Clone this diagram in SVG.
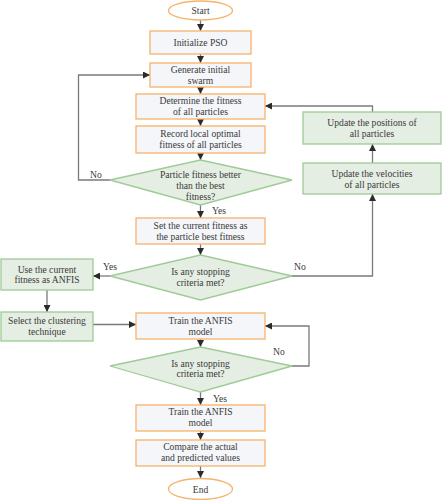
<svg xmlns="http://www.w3.org/2000/svg" width="442" height="500" viewBox="0 0 442 500" font-family="'Liberation Serif', 'Times New Roman', serif">
<defs>
<marker id="ah" markerUnits="userSpaceOnUse" markerWidth="7" markerHeight="7" viewBox="0 0 7 7" refX="7" refY="3.5" orient="auto">
<path d="M0,0 L7,3.5 L0,7 Z" fill="#2b2b2b"/>
</marker>
<style>
.o{fill:#f4f6f9;stroke:#f6b26b;stroke-width:1.3}
.e{fill:#ffffff;stroke:#f6b26b;stroke-width:1.3}
.g{fill:#e5eee3;stroke:#9fcb97;stroke-width:1.3}
.c{fill:none;stroke:#7a7a7a;stroke-width:1.3}
text{font-family:'Liberation Serif','Times New Roman',serif;font-size:9.6px;fill:#3a3a3a;text-anchor:middle}
.l{text-anchor:start}
</style>
</defs>
<g id="connectors">
<line class="c" x1="200.5" y1="20" x2="200.5" y2="31" marker-end="url(#ah)"/>
<line class="c" x1="200.5" y1="54" x2="200.5" y2="63" marker-end="url(#ah)"/>
<line class="c" x1="200.5" y1="87" x2="200.5" y2="94" marker-end="url(#ah)"/>
<line class="c" x1="200.5" y1="119" x2="200.5" y2="126" marker-end="url(#ah)"/>
<line class="c" x1="200.5" y1="153" x2="200.5" y2="160" marker-end="url(#ah)"/>
<polyline class="c" points="110,180 78.5,180 78.5,75 150,75" marker-end="url(#ah)"/>
<line class="c" x1="200.5" y1="205" x2="200.5" y2="218" marker-end="url(#ah)"/>
<line class="c" x1="200.5" y1="244" x2="200.5" y2="255" marker-end="url(#ah)"/>
<line class="c" x1="110" y1="276" x2="93" y2="276" marker-end="url(#ah)"/>
<line class="c" x1="47" y1="290" x2="47" y2="312" marker-end="url(#ah)"/>
<line class="c" x1="93" y1="324.5" x2="136" y2="324.5" marker-end="url(#ah)"/>
<polyline class="c" points="292,276 372.5,276 372.5,194" marker-end="url(#ah)"/>
<line class="c" x1="372.5" y1="163" x2="372.5" y2="144" marker-end="url(#ah)"/>
<polyline class="c" points="372.5,112 372.5,106 265,106" marker-end="url(#ah)"/>
<line class="c" x1="200.5" y1="339" x2="200.5" y2="347" marker-end="url(#ah)"/>
<polyline class="c" points="292,366 309,366 309,326 265,326" marker-end="url(#ah)"/>
<line class="c" x1="200.5" y1="392" x2="200.5" y2="405" marker-end="url(#ah)"/>
<line class="c" x1="200.5" y1="431" x2="200.5" y2="440" marker-end="url(#ah)"/>
<line class="c" x1="200.5" y1="466" x2="200.5" y2="478" marker-end="url(#ah)"/>
<text class="l" x="90" y="178">No</text>
<text class="l" x="212" y="214">Yes</text>
<text class="l" x="103" y="270">Yes</text>
<text class="l" x="294" y="270">No</text>
<text class="l" x="273" y="355">No</text>
<text class="l" x="213" y="401.5">Yes</text>
</g>
<g id="start"><ellipse class="e" cx="200.5" cy="10.5" rx="32" ry="9.5"/><text x="200.5" y="13.8">Start</text></g>
<g id="init"><rect class="o" x="150" y="31" width="101" height="23"/><text x="200.5" y="45.5">Initialize PSO</text></g>
<g id="generate"><rect class="o" x="150" y="63" width="101" height="24"/><text x="200.5" y="72.5">Generate initial</text><text x="200.5" y="83.5">swarm</text></g>
<g id="determine"><rect class="o" x="136" y="94" width="129" height="25"/><text x="200.5" y="104">Determine the fitness</text><text x="200.5" y="115">of all particles</text></g>
<g id="record"><rect class="o" x="136" y="126" width="129" height="27"/><text x="200.5" y="136.5">Record local optimal</text><text x="200.5" y="147.5">fitness of all particles</text></g>
<g id="decision1"><polygon class="g" points="200.5,160 292,180 200.5,205 110,180"/><text x="200.5" y="178">Particle fitness better</text><text x="200.5" y="189">than the best</text><text x="200.5" y="200">fitness?</text></g>
<g id="setbest"><rect class="o" x="136" y="218" width="129" height="26"/><text x="200.5" y="228.5">Set the current fitness as</text><text x="200.5" y="239.5">the particle best fitness</text></g>
<g id="decision2"><polygon class="g" points="200.5,255 292,276 200.5,300 110,276"/><text x="200.5" y="275">Is any stopping</text><text x="200.5" y="286">criteria met?</text></g>
<g id="usecurrent"><rect class="g" x="1" y="259" width="92" height="31"/><text x="47" y="272.5">Use the current</text><text x="47" y="283">fitness as ANFIS</text></g>
<g id="select"><rect class="g" x="1" y="312" width="92" height="29"/><text x="47" y="323.5">Select the clustering</text><text x="47" y="334.5">technique</text></g>
<g id="velocities"><rect class="g" x="303" y="163" width="138" height="31"/><text x="372" y="176.5">Update the velocities</text><text x="372" y="187.5">of all particles</text></g>
<g id="positions"><rect class="g" x="303" y="112" width="138" height="32"/><text x="372" y="125.5">Update the positions of</text><text x="372" y="136.5">all particles</text></g>
<g id="train1"><rect class="o" x="136" y="313" width="129" height="26"/><text x="200.5" y="323.5">Train the ANFIS</text><text x="200.5" y="334.5">model</text></g>
<g id="decision3"><polygon class="g" points="200.5,347 292,366 200.5,392 110,366"/><text x="200.5" y="366.5">Is any stopping</text><text x="200.5" y="377">criteria met?</text></g>
<g id="train2"><rect class="o" x="136" y="405" width="129" height="26"/><text x="200.5" y="415">Train the ANFIS</text><text x="200.5" y="426">model</text></g>
<g id="compare"><rect class="o" x="136" y="440" width="129" height="26"/><text x="200.5" y="450">Compare the actual</text><text x="200.5" y="461">and predicted values</text></g>
<g id="end"><ellipse class="e" cx="200.5" cy="489" rx="32" ry="10.5"/><text x="200.5" y="492.5">End</text></g>
</svg>
